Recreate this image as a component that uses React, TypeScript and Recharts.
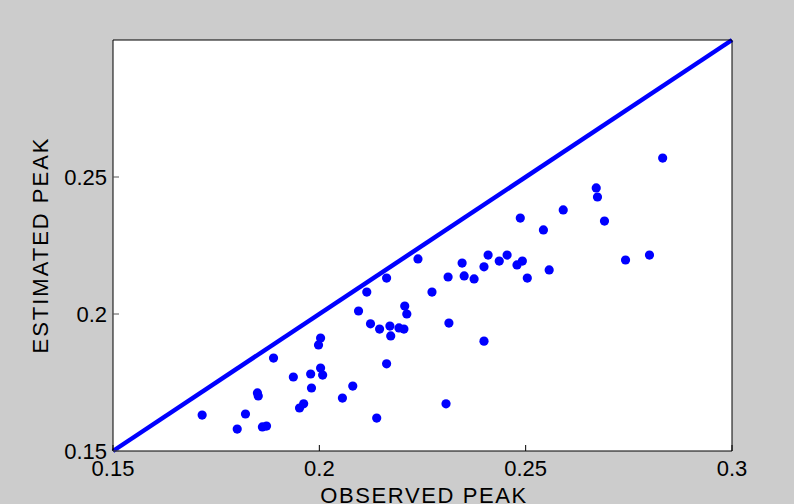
import { ScatterChart, Scatter, XAxis, YAxis, CartesianGrid, ReferenceLine, Label } from 'recharts'

const observed = [
  0.1716, 0.1801, 0.1821, 0.1850, 0.1852, 0.1862, 0.1872, 0.1889, 0.1937, 0.1952,
  0.1962, 0.1979, 0.1981, 0.1998, 0.2003, 0.2003, 0.2008, 0.2056, 0.2081, 0.2095,
  0.2115, 0.2124, 0.2139, 0.2146, 0.2163, 0.2163, 0.2171, 0.2173, 0.2193, 0.2205,
  0.2207, 0.2212, 0.2239, 0.2273, 0.2307, 0.2312, 0.2314, 0.2346, 0.2351, 0.2375,
  0.2399, 0.2399, 0.2409, 0.2436, 0.2455, 0.2479, 0.2492, 0.2487, 0.2504, 0.2543,
  0.2557, 0.2591, 0.2671, 0.2674, 0.2691, 0.2742, 0.2800, 0.2832,
]

const estimated = [
  0.1631, 0.1580, 0.1635, 0.1712, 0.1701, 0.1588, 0.1591, 0.1839, 0.1770, 0.1657,
  0.1672, 0.1781, 0.1730, 0.1887, 0.1912, 0.1803, 0.1777, 0.1693, 0.1737, 0.2011,
  0.2080, 0.1964, 0.1620, 0.1945, 0.2131, 0.1818, 0.1956, 0.1920, 0.1949, 0.1945,
  0.2029, 0.2000, 0.2201, 0.2080, 0.1672, 0.2135, 0.1967, 0.2186, 0.2139, 0.2128,
  0.2172, 0.1901, 0.2215, 0.2193, 0.2215, 0.2179, 0.2193, 0.2350, 0.2131, 0.2307,
  0.2161, 0.2380, 0.2460, 0.2427, 0.2339, 0.2197, 0.2215, 0.2569,
]

const xTicks = [0.15, 0.2, 0.25, 0.3]
const yTicks = [0.15, 0.2, 0.25]
const domain = [0.15, 0.3]
const diagonal = [
  { x: 0.15, y: 0.15 },
  { x: 0.3, y: 0.3 },
]

const points = observed.map((x, i) => ({ x, y: estimated[i] }))

const font = 'Liberation Sans, Arial, sans-serif'
const tickStyle = { fill: '#000', fontSize: 22, fontFamily: font }

const Dot = (p: any) => <circle cx={p.cx} cy={p.cy} r={4.6} fill="#0000ff" />

export default function App() {
  return (
    <div style={{ position: 'absolute', left: 0, top: 0, width: 794, height: 504, background: '#cccccc' }}>
      <ScatterChart width={794} height={504} margin={{ top: 39, right: 61, bottom: 0, left: 0 }}>
        <CartesianGrid fill="#ffffff" stroke="none" horizontal={false} vertical={false} />
        <XAxis
          type="number"
          dataKey="x"
          domain={domain}
          ticks={xTicks}
          height={53}
          axisLine={{ stroke: '#000' }}
          tickLine={{ stroke: '#000' }}
          tickSize={-6}
          tickMargin={15}
          tick={tickStyle}
          allowDataOverflow
        >
          <Label
            content={() => (
              <text x={424} y={503} textAnchor="middle" fill="#000" fontSize={22} fontFamily={font} letterSpacing={1.6}>
                OBSERVED PEAK
              </text>
            )}
          />
        </XAxis>
        <XAxis
          xAxisId="top"
          orientation="top"
          type="number"
          domain={domain}
          ticks={xTicks}
          height={1}
          axisLine={{ stroke: '#000' }}
          tickLine={{ stroke: '#000' }}
          tickSize={-6}
          tick={false}
          allowDataOverflow
        />
        <YAxis
          type="number"
          dataKey="y"
          domain={domain}
          ticks={yTicks}
          width={113}
          axisLine={{ stroke: '#000' }}
          tickLine={{ stroke: '#555' }}
          tickSize={-6}
          tickMargin={12}
          tick={tickStyle}
          allowDataOverflow
        >
          <Label
            content={() => (
              <text
                x={48}
                y={245}
                transform="rotate(-90 48 245)"
                textAnchor="middle"
                fill="#000"
                fontSize={22}
                fontFamily={font}
                letterSpacing={2}
              >
                ESTIMATED PEAK
              </text>
            )}
          />
        </YAxis>
        <YAxis
          yAxisId="right"
          orientation="right"
          type="number"
          domain={domain}
          ticks={yTicks}
          width={1}
          axisLine={{ stroke: '#000' }}
          tickLine={{ stroke: '#555' }}
          tickSize={-6}
          tick={false}
          allowDataOverflow
        />
        <ReferenceLine segment={diagonal} stroke="#0000ff" strokeWidth={4.5} ifOverflow="visible" />
        <Scatter data={points} shape={Dot} isAnimationActive={false} />
      </ScatterChart>
    </div>
  )
}
